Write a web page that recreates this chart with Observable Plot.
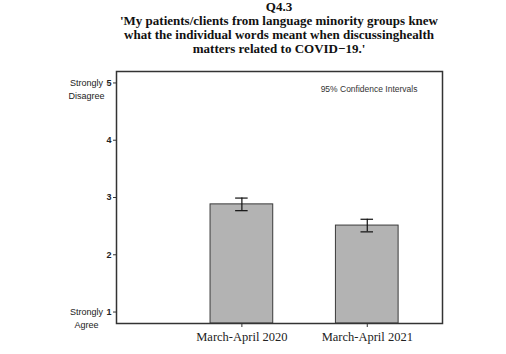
<!DOCTYPE html>
<html>
<head>
<meta charset="utf-8">
<script src="https://cdn.jsdelivr.net/npm/d3@7"></script>
<script src="https://cdn.jsdelivr.net/npm/@observablehq/plot@0.6"></script>
<style>
  html, body { margin: 0; padding: 0; background: #fff; }
  #title {
    box-sizing: border-box; width: 506px; padding-left: 52px; margin-top: 0;
    font-family: "Liberation Serif", "Times New Roman", serif; font-weight: bold;
    font-size: 13px; line-height: 14px; text-align: center; color: #111; height: 56px;
  }
</style>
</head>
<body>
<div id="title">Q4.3<br>'My patients/clients from language minority groups knew<br>what the individual words meant when discussinghealth<br>matters related to COVID−19.'</div>
<div id="chart"></div>
<script>
const periods = ["March-April 2020", "March-April 2021"];
const means = [2.88, 2.51];
const lower = [2.77, 2.40];
const upper = [2.99, 2.62];
const yTicks = [1, 2, 3, 4, 5];

const data = periods.map((p, i) => ({period: p, pos: i + 1, mean: means[i], lo: lower[i], hi: upper[i]}));
const half = 0.25, cap = 0.05;

const chart = Plot.plot({
  width: 506,
  height: 298,
  marginTop: 15,
  marginBottom: 31,
  marginLeft: 116,
  marginRight: 64,
  style: {fontFamily: "Liberation Sans, Arial, sans-serif", fontSize: "9px", color: "#222", background: "#fff"},
  x: {domain: [0, 2.6]},
  y: {domain: [0.8, 5.2]},
  marks: [
    Plot.rectY(data, {x1: d => d.pos - half, x2: d => d.pos + half, y1: 0.8, y2: "mean", fill: "#b3b3b3", stroke: "#3a3a3a", strokeWidth: 1}),
    Plot.ruleX(data, {x: "pos", y1: "lo", y2: "hi", stroke: "#111", strokeWidth: 1.2}),
    Plot.ruleY(data, {y: "hi", x1: d => d.pos - cap, x2: d => d.pos + cap, stroke: "#111", strokeWidth: 1.2}),
    Plot.ruleY(data, {y: "lo", x1: d => d.pos - cap, x2: d => d.pos + cap, stroke: "#111", strokeWidth: 1.2}),
    Plot.frame({stroke: "#333", strokeWidth: 1.5}),
    Plot.axisY({ticks: yTicks, tickFormat: d3.format("d"), tickSize: 3, tickPadding: 2, fontWeight: "bold", fontSize: 9, label: null, stroke: "#333"}),
    Plot.axisX({ticks: [1, 2], tickFormat: d => periods[d - 1], tickSize: 4, tickPadding: 5, label: null,
      fontFamily: "Liberation Serif, Times New Roman, serif", fontSize: 12.5, fill: "#222", stroke: "#333"}),
    Plot.text(["Strongly\nDisagree"], {frameAnchor: "left", y: [5], dx: -30, textAnchor: "middle", lineAnchor: "top", dy: -6, lineHeight: 1.45, fontSize: 9, fill: "#222"}),
    Plot.text(["Strongly\nAgree"], {frameAnchor: "left", y: [1], dx: -30, textAnchor: "middle", lineAnchor: "top", dy: -6, lineHeight: 1.45, fontSize: 9, fill: "#222"}),
    Plot.text(["95% Confidence Intervals"], {frameAnchor: "top-right", dx: -25, dy: 18, textAnchor: "end", lineAnchor: "middle", fontSize: 8.5, fill: "#333"})
  ]
});
document.getElementById("chart").appendChild(chart);
</script>
</body>
</html>
